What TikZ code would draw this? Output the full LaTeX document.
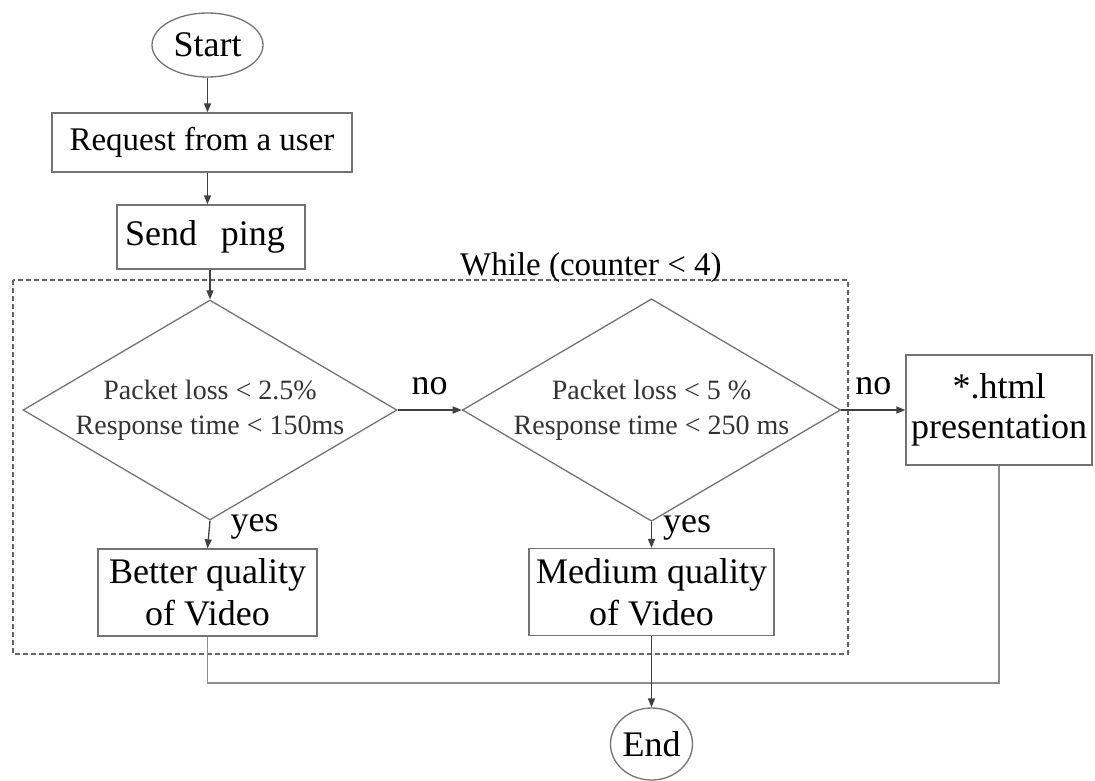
\documentclass[tikz,border=0pt]{standalone}
\usepackage{fontspec}
\setmainfont{Liberation Serif}
\usetikzlibrary{shapes.geometric,arrows.meta}

\begin{document}
\begin{tikzpicture}[x=1pt,y=-1pt,
  box/.style={draw=black!55, line width=1.3pt, inner sep=0pt, align=center,
              font=\fontsize{36}{42}\selectfont},
  term/.style={ellipse, draw=black!55, line width=1.3pt, inner sep=0pt,
               font=\fontsize{36}{42}\selectfont},
  cond/.style={diamond, draw=black!55, line width=1.3pt, inner sep=0pt,
               shape aspect=1.7, minimum width=374pt, minimum height=220pt,
               align=center, font=\fontsize{28}{35}\selectfont, text=black!80},
  arr/.style={draw=black!75, line width=1.3pt, -{Triangle[length=9pt,width=7pt]}},
  link/.style={draw=black!45, line width=1.3pt},
  lbl/.style={font=\fontsize{36}{42}\selectfont, inner sep=0pt},
  loopbox/.style={draw=black!60, line width=1.3pt, dash pattern=on 5pt off 3pt}
]
\useasboundingbox (0,0) rectangle (1095,780);

% loop frame and its caption
\draw[loopbox] (13,280) rectangle (848,654);
\node[font=\fontsize{33}{40}\selectfont, anchor=base west, inner sep=0pt]
  (looplabel) at (460,275) {While (counter < 4)};

% nodes
\node[term, minimum width=111pt, minimum height=64pt] (start) at (207.5,45) {Start};
\node[box, minimum width=300pt, minimum height=59pt, font=\fontsize{33}{40}\selectfont]
  (request) at (202,142.5) {Request from a user};
\node[box, text width=172pt, inner xsep=8pt, align=left, minimum height=64pt]
  (send) at (211,237) {Send~ ping};
\node[cond] (d1) at (210,410) {Packet loss < 2.5\%\\Response time < 150ms};
\node[cond] (d2) at (651.5,410) {Packet loss < 5 \%\\Response time < 250 ms};
\node[box, minimum width=186pt, minimum height=110pt, font=\fontsize{36}{40}\selectfont]
  (html) at (999,410) {*.html\\presentation};
\node[box, minimum width=219pt, minimum height=87pt] (better) at (207.5,592.5)
  {Better quality\\of Video};
\node[box, minimum width=245pt, minimum height=87pt] (medium) at (651.5,592)
  {Medium quality\\of Video};
\node[term, minimum width=73pt, minimum height=72pt] (end) at (651.5,744) {End};
\coordinate (merge) at (651.5,683);

% connectors
\draw[arr] (start.south) -- (start.south |- request.north);
\draw[arr] (request.south -| start.south) -- (send.north -| start.south);
\draw[arr] (send.south -| d1.north) -- (d1.north);
\draw[arr] (d1.east) -- node[lbl, above=15pt] {no} (d2.west);
\draw[arr] (d2.east) -- node[lbl, above=15pt] {no} (html.west);
\draw[arr] (d1.south) -- node[lbl, pos=0.4, anchor=base west, xshift=21pt] {yes} (better.north);
\draw[arr] (d2.south) -- node[lbl, pos=0.4, anchor=base west, xshift=11pt] {yes} (medium.north);
\draw[link] (better.south) |- (merge) -| (html.south);
\draw[arr] (medium.south) -- (end.north);
\end{tikzpicture}
\end{document}
